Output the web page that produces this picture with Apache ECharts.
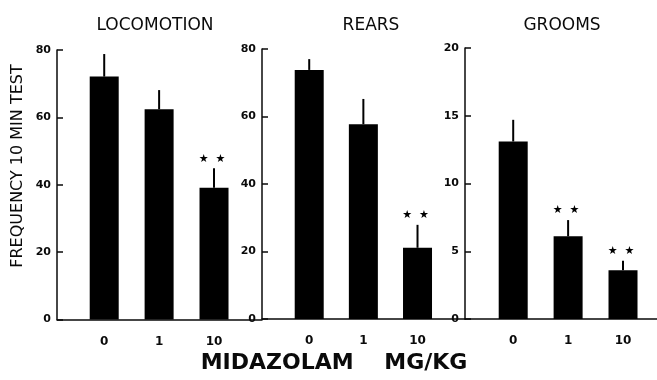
<!DOCTYPE html>
<html>
<head>
<meta charset="utf-8">
<script src="https://cdn.jsdelivr.net/npm/echarts@6/dist/echarts.min.js"></script>
<style>html,body{margin:0;padding:0;background:#fff}#c{width:657px;height:380px}</style>
</head>
<body>
<div id="c"></div>
<script>
// ---- data ----
const doses = ['0', '1', '10'];
const panelTitles = ['LOCOMOTION', 'REARS', 'GROOMS'];
const locomotionMeans = [72.1, 62.4, 39.1];
const locomotionSem = [6.7, 5.7, 5.8];
const locomotionSig = [0, 0, 1];
const rearsMeans = [73.8, 57.7, 21.1];
const rearsSem = [3.2, 7.5, 6.8];
const rearsSig = [0, 0, 1];
const groomsMeans = [13.1, 6.1, 3.6];
const groomsSem = [1.6, 1.2, 0.7];
const groomsSig = [0, 1, 1];
const yMaxes = [80, 80, 20];
const yIntervals = [20, 20, 5];
const yTitle = 'FREQUENCY 10 MIN TEST';
const xTitle = 'MIDAZOLAM    MG/KG';
const starText = '★  ★';

// ---- layout ----
const panels = [
  { means: locomotionMeans, sem: locomotionSem, sig: locomotionSig,
    grid: { left: 57, width: 205, top: 50, bottom: 60.5 }, xmin: -0.86, xmax: 2.874, titleX: 155 },
  { means: rearsMeans, sem: rearsSem, sig: rearsSig,
    grid: { left: 262, width: 203, top: 49, bottom: 61 }, xmin: -0.872, xmax: 2.877, titleX: 371 },
  { means: groomsMeans, sem: groomsSem, sig: groomsSig,
    grid: { left: 465, width: 192, top: 48, bottom: 61 }, xmin: -0.878, xmax: 2.619, titleX: 562 }
];

const ink = '#0a0a0a';
const grids = [], xAxes = [], yAxes = [], series = [], titles = [];

panels.forEach((p, k) => {
  grids.push(Object.assign({ containLabel: false }, p.grid));
  xAxes.push({
    type: 'value', gridIndex: k, min: p.xmin, max: p.xmax,
    axisLine: { show: true, onZero: false, lineStyle: { color: ink, width: 1.5 } },
    axisTick: { show: false },
    splitLine: { show: false },
    axisLabel: {
      customValues: [0, 1, 2],
      formatter: v => doses[Math.round(v)],
      margin: 16, color: ink,
      fontFamily: 'DejaVu Sans', fontWeight: 'bold', fontSize: 12
    }
  });
  yAxes.push({
    type: 'value', gridIndex: k, min: 0, max: yMaxes[k], interval: yIntervals[k],
    axisLine: { show: true, onZero: false, lineStyle: { color: ink, width: 1.5 } },
    axisTick: { show: true, inside: true, length: 6, lineStyle: { color: ink, width: 1.5 } },
    splitLine: { show: false },
    axisLabel: { margin: 6, color: ink, fontFamily: 'DejaVu Sans', fontWeight: 'bold', fontSize: 11 }
  });
  series.push({
    type: 'bar', xAxisIndex: k, yAxisIndex: k, barWidth: 29,
    itemStyle: { color: '#000' },
    data: p.means.map((m, i) => [i, m]),
    silent: true
  });
  series.push({
    type: 'custom', xAxisIndex: k, yAxisIndex: k, clip: false,
    data: p.means.map((m, i) => [i, m, p.sem[i], p.sig[i]]),
    renderItem: function (params, api) {
      const i = api.value(0), m = api.value(1), e = api.value(2), s = api.value(3);
      const a = api.coord([i, m]);
      const b = api.coord([i, m + e]);
      const children = [{
        type: 'line',
        shape: { x1: a[0], y1: a[1], x2: b[0], y2: b[1] },
        style: { stroke: '#000', lineWidth: 2 }
      }];
      if (s) {
        children.push({
          type: 'text',
          style: { text: starText, x: a[0] - 2, y: b[1] - 4, align: 'center', verticalAlign: 'bottom',
                   font: '11px "DejaVu Sans"', fill: '#000' }
        });
      }
      return { type: 'group', children: children };
    },
    silent: true
  });
  titles.push({
    text: panelTitles[k], left: p.titleX, top: 17, padding: 0, textAlign: 'center',
    textStyle: { fontFamily: 'DejaVu Sans', fontWeight: 'normal', fontSize: 17, color: ink }
  });
});

const chart = echarts.init(document.getElementById('c'), null, { renderer: 'canvas' });
chart.setOption({
  animation: false,
  backgroundColor: '#fff',
  title: titles,
  grid: grids,
  xAxis: xAxes,
  yAxis: yAxes,
  series: series,
  graphic: [
    { type: 'text', x: 18, y: 166, rotation: Math.PI / 2,
      style: { text: yTitle, align: 'center', verticalAlign: 'middle',
               font: '16px "DejaVu Sans"', fill: ink } },
    { type: 'text', x: 334, y: 363,
      style: { text: xTitle, align: 'center', verticalAlign: 'middle',
               font: 'bold 22px "DejaVu Sans"', fill: ink } }
  ]
});
</script>
</body>
</html>
